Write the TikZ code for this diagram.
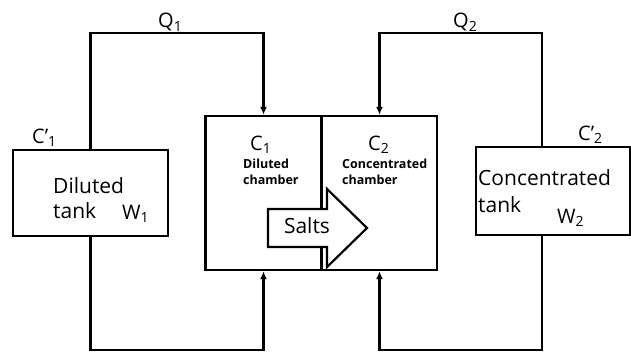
\documentclass[tikz,border=0pt]{standalone}
\usepackage{fontspec}
\setmainfont{Open Sans}
\usetikzlibrary{positioning,arrows.meta}
\tikzset{
  flowarrow/.style={-{Latex[length=8pt,width=7pt]}, line width=2.2pt},
  tankbox/.style={draw, line width=2.2pt, fill=white},
  chamberbox/.style={draw, line width=2.4pt, minimum width=116pt, minimum height=154pt},
  saltsarrow/.style={draw, line width=2.2pt, fill=white},
  bigtext/.style={font=\fontsize{21}{25}\selectfont, inner sep=0pt, align=left},
  labeltext/.style={font=\fontsize{20}{22}\selectfont, inner sep=0pt},
  smalltext/.style={font=\bfseries\fontsize{12.5}{16}\selectfont, inner sep=0pt, align=left}
}
\begin{document}
\begin{tikzpicture}[x=1pt, y=1pt]
  \useasboundingbox (0,0) rectangle (631,-353);
  \node[tankbox, minimum width=155pt, minimum height=86pt] (dtank) at (90.5,-193) {};
  \node[tankbox, minimum width=154pt, minimum height=88pt] (ctank) at (553,-191) {};
  \node[chamberbox] (dch) at (263.5,-193) {};
  \node[chamberbox, minimum width=115pt] (cch) at (379.5,-193) {};
  \coordinate (q1) at (177,-33);
  \coordinate (b1) at (177,-350);
  \coordinate (q2) at (461,-33);
  \coordinate (b2) at (461,-350);
  \draw[flowarrow] (dtank.north) |- (q1) -| (dch.north);
  \draw[flowarrow] (dtank.south) |- (b1) -| (dch.south);
  \draw[flowarrow] ([xshift=-11pt]ctank.north) |- (q2) -| (cch.north);
  \draw[flowarrow] ([xshift=-11pt]ctank.south) |- (b2) -| (cch.south);
  \draw[saltsarrow] (268,-209) -- (327,-209) -- (327,-189) -- (367,-228)
    -- (327,-267) -- (327,-247) -- (268,-247) -- cycle;
  \node[bigtext, anchor=base] (salts) at (307,-233) {Salts};
  \node[labeltext, anchor=base west] (q1label) at (158,-28) {Q\textsubscript{1}};
  \node[labeltext, anchor=base west] (q2label) at (453,-28) {Q\textsubscript{2}};
  \node[labeltext, anchor=base west] (c1prime) at (32,-143) {C'\textsubscript{1}};
  \node[labeltext, anchor=base west] (c2prime) at (578,-140) {C'\textsubscript{2}};
  \node[labeltext, anchor=base west] (c1) at (250,-150) {C\textsubscript{1}};
  \node[labeltext, anchor=base west] (c2) at (368,-150) {C\textsubscript{2}};
  \node[smalltext, anchor=base west] (dchtext) at (243,-184) {Diluted\\chamber};
  \node[smalltext, anchor=base west] (cchtext) at (342,-184) {Concentrated\\chamber};
  \node[bigtext, anchor=base west] (dtext) at (53,-218) {Diluted\\tank};
  \node[bigtext, font=\fontsize{21}{27}\selectfont, anchor=base west] (ctext) at (478,-212) {Concentrated\\tank};
  \node[labeltext, anchor=base west] (w1) at (122,-219) {W\textsubscript{1}};
  \node[labeltext, anchor=base west] (w2) at (557,-223) {W\textsubscript{2}};
\end{tikzpicture}
\end{document}
